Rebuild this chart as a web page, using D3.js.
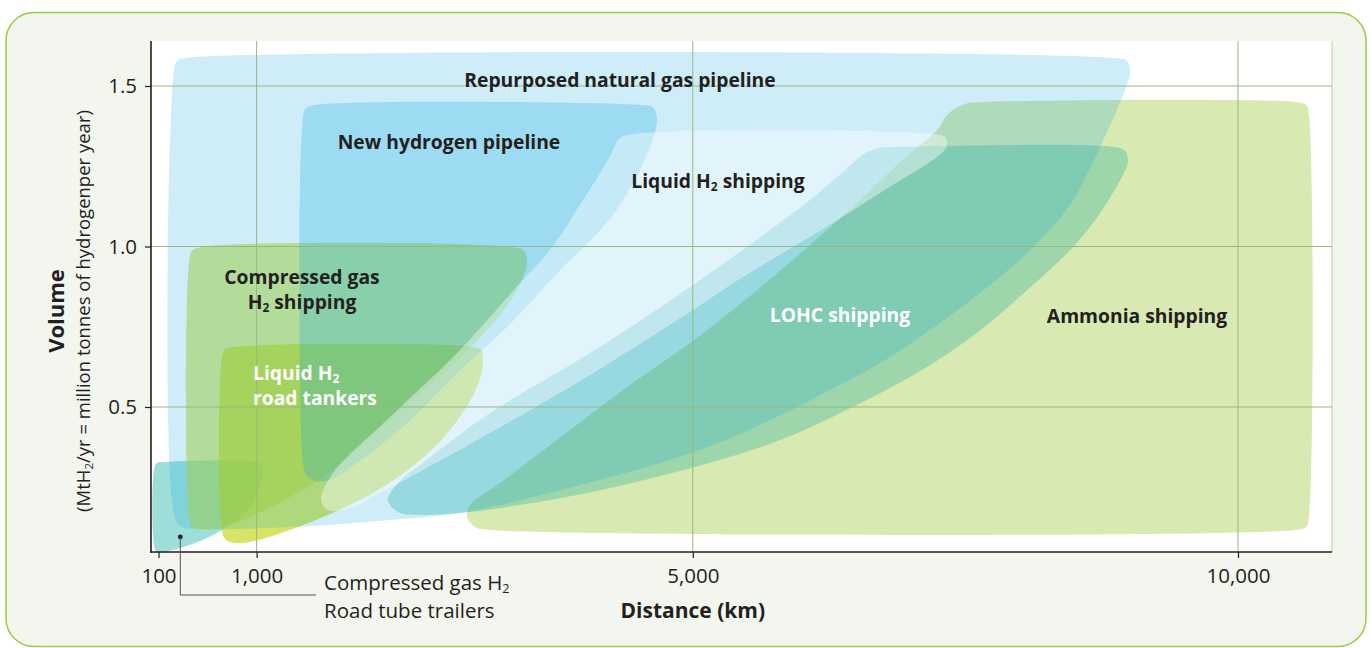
<!DOCTYPE html>
<html><head><meta charset="utf-8">
<script src="https://cdn.jsdelivr.net/npm/d3@7"></script>
<style>
body{margin:0;background:#fff;}
svg{display:block;font-family:"Open Sans",Lato,sans-serif;}
</style>
</head><body>
<svg id="chart" width="1371" height="648"></svg>
<script>
// ---------- data (distance km, volume MtH2/yr) ----------
const xTicks = [100, 1000, 5000, 10000];
const yTicks = [0.5, 1.0, 1.5];
const xGrid = [1000, 5000, 10000];

const ammonia = [[7240,1.363],[7341,1.413],[7496,1.444],[7680,1.450],[10523,1.450],[10624,1.441],[10651,1.407],
  [10651,0.160],[10624,0.126],[10523,0.117],[3140,0.117],[3003,0.126],[2929,0.160],[2957,0.195],[3232,0.263],
  [3755,0.397],[4360,0.553],[4974,0.699],[5589,0.864],[6075,1.005],[6534,1.145],[6900,1.263]];
const lohc = [[2205,0.210],[2296,0.263],[2526,0.326],[3140,0.481],[4057,0.668],[4974,0.874],[6075,1.145],[6396,1.238],
  [6552,1.285],[6699,1.307],[6855,1.310],[8854,1.310],[8964,1.298],[8991,1.263],[8945,1.223],[8735,1.104],[8487,0.998],
  [8065,0.864],[7607,0.731],[7148,0.625],[6534,0.512],[5800,0.397],[4984,0.310],[4149,0.241],[3415,0.195],[2957,0.173],
  [2498,0.164],[2296,0.173]];
const tubeTrailers = [[59,0.304],[86,0.326],[150,0.329],[1013,0.329],[1058,0.319],[1031,0.257],[912,0.179],[682,0.117],
  [435,0.076],[187,0.051],[86,0.048],[59,0.070]];
const compressedShipping = [[380,0.952],[407,0.986],[490,0.998],[3342,0.998],[3452,0.986],[3480,0.949],[3388,0.864],
  [3140,0.749],[2838,0.646],[2526,0.553],[2223,0.460],[1920,0.366],[1609,0.282],[1306,0.220],[985,0.164],[710,0.126],
  [481,0.117],[407,0.126],[380,0.154]];
const roadTankers = [[682,0.653],[710,0.678],[792,0.687],[2984,0.687],[3058,0.678],[3076,0.646],[3021,0.562],[2773,0.428],
  [2471,0.326],[2067,0.232],[1609,0.157],[1306,0.117],[985,0.083],[820,0.076],[719,0.086],[682,0.117]];
const newPipeline = [[1425,1.403],[1453,1.431],[1535,1.441],[4516,1.441],[4626,1.435],[4672,1.403],[4608,1.310],[4268,1.098],
  [3755,0.917],[3296,0.749],[2838,0.606],[2379,0.450],[1920,0.326],[1673,0.273],[1544,0.269],[1453,0.288],[1425,0.326]];
const repurposed = [[242,1.550],[270,1.578],[352,1.587],[8872,1.587],[8982,1.578],[9010,1.544],[8964,1.488],[8735,1.310],
  [8459,1.129],[8093,0.989],[7726,0.880],[7267,0.762],[6809,0.656],[6350,0.569],[5616,0.444],[4984,0.357],[4149,0.273],
  [2920,0.173],[2223,0.148],[1306,0.126],[481,0.120],[316,0.126],[251,0.154]];
const liquidShipping = [[4259,1.294],[4323,1.335],[4442,1.350],[7221,1.350],[7313,1.341],[7331,1.313],[7240,1.279],
  [6836,1.192],[6442,1.107],[6075,1.030],[5460,0.905],[4974,0.796],[4057,0.600],[3140,0.419],[2526,0.304],[2131,0.232],
  [1810,0.179],[1654,0.179],[1590,0.210],[1700,0.294],[2223,0.469],[2838,0.668],[3415,0.886],[3690,0.989],[3993,1.145],
  [4149,1.229]];

const regions = [
  {name:"Ammonia shipping", pts:ammonia, fill:"rgb(158,200,63)", op:0.4},
  {name:"LOHC shipping", pts:lohc, fill:"rgb(0,163,148)", op:0.27},
  {name:"Compressed gas H2 road tube trailers", pts:tubeTrailers, fill:"rgb(0,169,157)", op:0.38},
  {name:"Compressed gas H2 shipping", pts:compressedShipping, fill:"rgb(198,222,62)", op:0.6},
  {name:"Liquid H2 road tankers", pts:roadTankers, fill:"rgb(197,215,30)", op:0.68},
  {name:"New hydrogen pipeline", pts:newPipeline, fill:"rgb(0,161,222)", op:0.24},
  {name:"Repurposed natural gas pipeline", pts:repurposed, fill:"rgb(0,161,222)", op:0.19},
  {name:"Liquid H2 shipping", pts:liquidShipping, fill:"#ffffff", op:0.4}
];

const labels = [
  {lines:["Repurposed natural gas pipeline"], km:4332, mt:1.497, anchor:"middle", color:"#231f20"},
  {lines:["New hydrogen pipeline"], km:2764, mt:1.304, anchor:"middle", color:"#231f20"},
  {lines:["Liquid H₂ shipping"], km:5231, mt:1.182, anchor:"middle", color:"#231f20"},
  {lines:["Compressed gas","H₂ shipping"], km:1416, mt:0.882, anchor:"middle", color:"#231f20"},
  {lines:["Liquid H₂","road tankers"], km:967, mt:0.584, anchor:"start", color:"#ffffff"},
  {lines:["LOHC shipping"], km:6350, mt:0.765, anchor:"middle", color:"#ffffff"},
  {lines:["Ammonia shipping"], km:9074, mt:0.762, anchor:"middle", color:"#231f20"}
];
const tubeMarker = [300, 0.095];

// ---------- layout ----------
const svg = d3.select("#chart");
const L = 151, R = 1332, T = 41, B = 552;
const x = d3.scaleLinear().domain([100, 10000]).range([158.5, 1238]);
const y = d3.scaleLinear().domain([0.5, 1.5]).range([407, 86]);
const ink = "#231f20";
const gridC = "#97b97c";
const FONT = "'Open Sans', Lato, sans-serif";

function rich(sel, str, fs) {
  const parts = str.split("₂");
  let shifted = false;
  const d = fs * 0.14;
  parts.forEach((p, i) => {
    if (i > 0) { sel.append("tspan").attr("font-size", fs * 0.62).attr("dy", d).text("2"); shifted = true; }
    if (p) { const t = sel.append("tspan").text(p); if (shifted) { t.attr("dy", -d); shifted = false; } }
  });
}

// panel
svg.append("rect").attr("x", 6).attr("y", 12.5).attr("width", 1360).attr("height", 634)
  .attr("rx", 28).attr("fill", "#f3f6ee").attr("stroke", "#9ccb3b").attr("stroke-width", 1.5);
svg.append("rect").attr("x", L).attr("y", T).attr("width", R - L).attr("height", B - T).attr("fill", "#ffffff");

// regions
const line = d3.line().x(d => x(d[0])).y(d => y(d[1])).curve(d3.curveCatmullRomClosed.alpha(0.5));
svg.append("g").selectAll("path").data(regions).join("path")
  .attr("d", d => line(d.pts)).attr("fill", d => d.fill).attr("fill-opacity", d => d.op);

// grid
const g = svg.append("g").attr("stroke", gridC).attr("stroke-width", 1);
xGrid.forEach(v => g.append("line").attr("x1", x(v)).attr("x2", x(v)).attr("y1", T).attr("y2", B));
g.append("line").attr("x1", R).attr("x2", R).attr("y1", T).attr("y2", B).attr("stroke", "#b5d3a0");
yTicks.forEach(v => g.append("line").attr("x1", L).attr("x2", R).attr("y1", y(v)).attr("y2", y(v)));

// axes
const gx = svg.append("g").attr("transform", `translate(0,${B})`)
  .call(d3.axisBottom(x).tickValues(xTicks).tickFormat(d3.format(",")).tickSize(6).tickPadding(10));
const gy = svg.append("g").attr("transform", `translate(${L},0)`)
  .call(d3.axisLeft(y).tickValues(yTicks).tickFormat(d3.format(".1f")).tickSize(6).tickPadding(8));
[gx, gy].forEach(a => {
  a.select(".domain").remove();
  a.selectAll("line").attr("stroke", ink).attr("stroke-width", 1.2);
  a.selectAll("text").attr("fill", ink).attr("font-size", 20.5).attr("font-family", FONT);
});
svg.append("line").attr("x1", L).attr("x2", L).attr("y1", T).attr("y2", B + 0.8).attr("stroke", ink).attr("stroke-width", 1.6);
svg.append("line").attr("x1", L - 0.8).attr("x2", R).attr("y1", B).attr("y2", B).attr("stroke", ink).attr("stroke-width", 1.6);

// axis titles
svg.append("text").attr("x", x(5000)).attr("y", 618).attr("text-anchor", "middle")
  .attr("font-weight", 700).attr("font-size", 21).attr("fill", ink).text("Distance (km)");
const yt = svg.append("g").attr("transform", "translate(64,311) rotate(-90)");
yt.append("text").attr("text-anchor", "middle").attr("font-weight", 700).attr("font-size", 22).attr("fill", ink).text("Volume");
const ys = yt.append("text").attr("y", 26).attr("text-anchor", "middle").attr("font-size", 18.5).attr("fill", ink);
rich(ys, "(MtH₂/yr = million tonnes of hydrogenper year)", 18.5);

// region labels
labels.forEach(lb => {
  lb.lines.forEach((ln, i) => {
    const t = svg.append("text").attr("x", x(lb.km)).attr("y", y(lb.mt) + i * 25)
      .attr("text-anchor", lb.anchor).attr("font-weight", 700).attr("font-size", 19.3).attr("fill", lb.color);
    rich(t, ln, 19.3);
  });
});

// tube trailer annotation
const mx = x(tubeMarker[0]), my = y(tubeMarker[1]);
svg.append("circle").attr("cx", mx).attr("cy", my).attr("r", 2.4).attr("fill", ink);
svg.append("path").attr("d", `M${mx},${my}V595H316`).attr("fill", "none").attr("stroke", "#555").attr("stroke-width", 1);
const a1 = svg.append("text").attr("x", 324).attr("y", 590).attr("font-size", 20.5).attr("fill", ink);
rich(a1, "Compressed gas H₂", 20.5);
svg.append("text").attr("x", 324).attr("y", 618).attr("font-size", 20.5).attr("fill", ink).text("Road tube trailers");
</script>
</body></html>
